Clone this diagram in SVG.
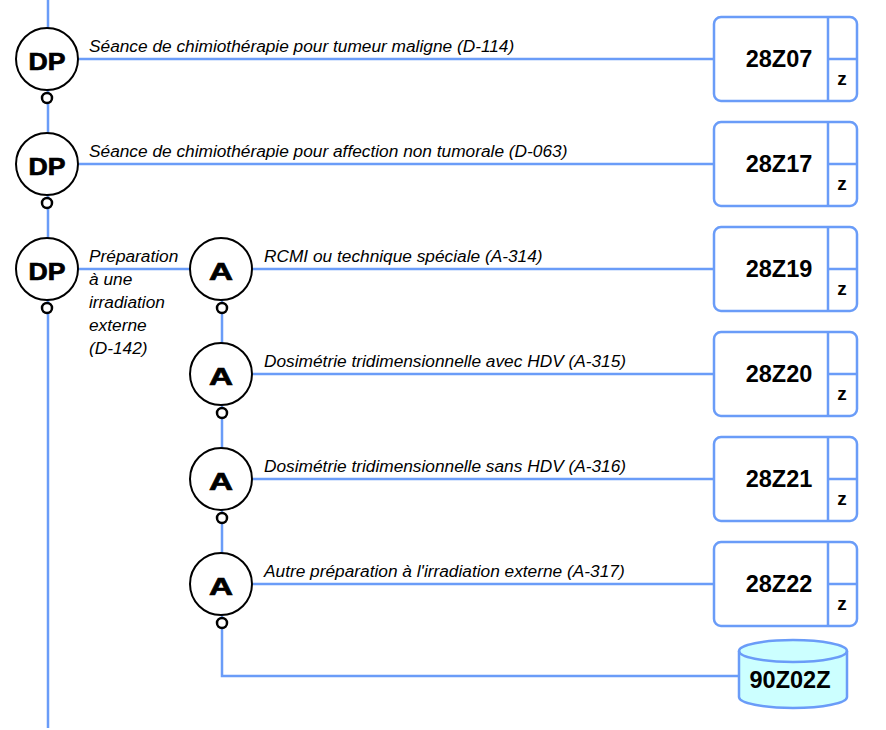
<svg xmlns="http://www.w3.org/2000/svg" width="886" height="730" viewBox="0 0 886 730">
<style>
.ln{stroke:#6a9cf8;stroke-width:2.5;fill:none}
.nc{fill:#fff;stroke:#000;stroke-width:2}
.sc{fill:#fff;stroke:#000;stroke-width:2.5}
.nt{font-family:"Liberation Sans",Arial,sans-serif;font-weight:bold;font-size:24px;text-anchor:middle;stroke:#000;stroke-width:0.7}
.lb{font-family:"Liberation Sans",Arial,sans-serif;font-style:italic;font-size:17.3px}
.bx{fill:#fff;stroke:#6a9cf8;stroke-width:2.5}
.bt{font-family:"Liberation Sans",Arial,sans-serif;font-weight:bold;font-size:23.5px;text-anchor:middle}
.zt{font-family:"Liberation Sans",Arial,sans-serif;font-weight:bold;font-size:19px;text-anchor:middle}
</style>
<rect width="886" height="730" fill="#fff"/>
<g id="connectors">
<path class="ln" d="M48 0V728"/>
<path class="ln" d="M79 59H715"/>
<path class="ln" d="M79 164H715"/>
<path class="ln" d="M79 269H190"/>
<path class="ln" d="M253 269H715"/>
<path class="ln" d="M253 374H715"/>
<path class="ln" d="M253 479H715"/>
<path class="ln" d="M253 584H715"/>
<path class="ln" d="M222 269V676H740"/>
</g>
<g id="dp1"><circle class="nc" cx="47" cy="59" r="31"/><text class="nt" x="47" y="70" textLength="37" lengthAdjust="spacingAndGlyphs">DP</text><circle class="sc" cx="47" cy="98" r="5"/></g>
<g id="dp2"><circle class="nc" cx="47" cy="164" r="31"/><text class="nt" x="47" y="175" textLength="37" lengthAdjust="spacingAndGlyphs">DP</text><circle class="sc" cx="47" cy="203" r="5"/></g>
<g id="dp3"><circle class="nc" cx="47" cy="269" r="31"/><text class="nt" x="47" y="280" textLength="37" lengthAdjust="spacingAndGlyphs">DP</text><circle class="sc" cx="47" cy="308" r="5"/></g>
<g id="a1"><circle class="nc" cx="221" cy="269" r="31"/><text class="nt" x="221" y="280" textLength="24" lengthAdjust="spacingAndGlyphs">A</text><circle class="sc" cx="222" cy="308" r="5"/></g>
<g id="a2"><circle class="nc" cx="221" cy="374" r="31"/><text class="nt" x="221" y="385" textLength="24" lengthAdjust="spacingAndGlyphs">A</text><circle class="sc" cx="222" cy="413" r="5"/></g>
<g id="a3"><circle class="nc" cx="221" cy="479" r="31"/><text class="nt" x="221" y="490" textLength="24" lengthAdjust="spacingAndGlyphs">A</text><circle class="sc" cx="222" cy="518" r="5"/></g>
<g id="a4"><circle class="nc" cx="221" cy="584" r="31"/><text class="nt" x="221" y="595" textLength="24" lengthAdjust="spacingAndGlyphs">A</text><circle class="sc" cx="222" cy="623" r="5"/></g>
<g id="labels">
<text class="lb" x="89" y="52">Séance de chimiothérapie pour tumeur maligne (D-114)</text>
<text class="lb" x="89" y="157">Séance de chimiothérapie pour affection non tumorale (D-063)</text>
<text class="lb" x="89" y="262">Préparation</text>
<text class="lb" x="89" y="285">à une</text>
<text class="lb" x="89" y="308">irradiation</text>
<text class="lb" x="89" y="331">externe</text>
<text class="lb" x="89" y="354">(D-142)</text>
<text class="lb" x="264" y="262">RCMI ou technique spéciale (A-314)</text>
<text class="lb" x="264" y="367">Dosimétrie tridimensionnelle avec HDV (A-315)</text>
<text class="lb" x="264" y="472">Dosimétrie tridimensionnelle sans HDV (A-316)</text>
<text class="lb" x="264" y="577">Autre préparation à l'irradiation externe (A-317)</text>
</g>
<g id="b28Z07"><rect class="bx" x="714" y="17" width="143" height="84" rx="7"/><path class="ln" d="M828 17V101M828 59H857"/><text class="bt" x="779" y="67">28Z07</text><text class="zt" x="842" y="85">z</text></g>
<g id="b28Z17"><rect class="bx" x="714" y="122" width="143" height="84" rx="7"/><path class="ln" d="M828 122V206M828 164H857"/><text class="bt" x="779" y="172">28Z17</text><text class="zt" x="842" y="190">z</text></g>
<g id="b28Z19"><rect class="bx" x="714" y="227" width="143" height="84" rx="7"/><path class="ln" d="M828 227V311M828 269H857"/><text class="bt" x="779" y="277">28Z19</text><text class="zt" x="842" y="295">z</text></g>
<g id="b28Z20"><rect class="bx" x="714" y="332" width="143" height="84" rx="7"/><path class="ln" d="M828 332V416M828 374H857"/><text class="bt" x="779" y="382">28Z20</text><text class="zt" x="842" y="400">z</text></g>
<g id="b28Z21"><rect class="bx" x="714" y="437" width="143" height="84" rx="7"/><path class="ln" d="M828 437V521M828 479H857"/><text class="bt" x="779" y="487">28Z21</text><text class="zt" x="842" y="505">z</text></g>
<g id="b28Z22"><rect class="bx" x="714" y="542" width="143" height="84" rx="7"/><path class="ln" d="M828 542V626M828 584H857"/><text class="bt" x="779" y="592">28Z22</text><text class="zt" x="842" y="610">z</text></g>
<g id="c90Z02Z">
<path d="M739 651V697A54 11 0 0 0 847 697V651A54 11 0 0 0 739 651Z" fill="#ccffff" stroke="#6a9cf8" stroke-width="2.5"/>
<path d="M739 651A54 11 0 0 0 847 651" fill="none" stroke="#6a9cf8" stroke-width="2.5"/>
<text class="bt" x="790" y="688">90Z02Z</text>
</g>
</svg>
